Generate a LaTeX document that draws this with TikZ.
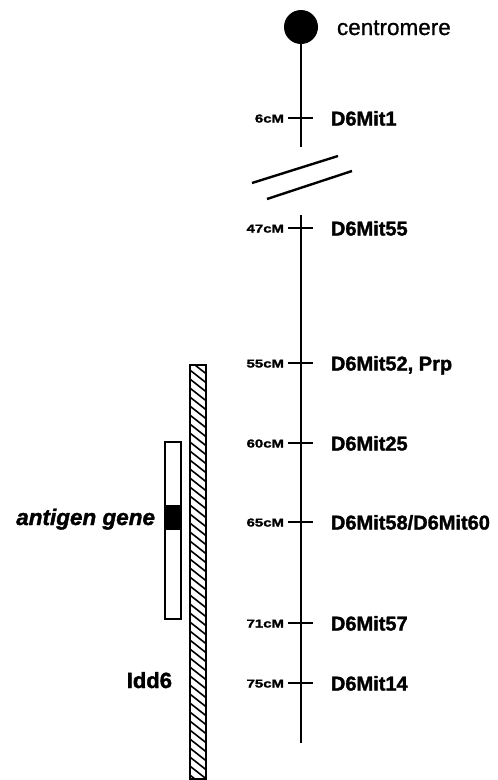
\documentclass[tikz,border=0pt]{standalone}
\usepackage{graphicx}
\usepackage{fontspec}
\setmainfont{Liberation Sans}
\newfontfamily\heavy[FakeBold=1.6]{Liberation Sans Bold}
\newfontfamily\heavyit[FakeBold=1.6]{Liberation Sans Bold Italic}
\newcommand\cmtext[1]{\scalebox{1.3}[1]{#1}}
\begin{document}
\begin{tikzpicture}[x=1pt,y=-1pt,line width=2pt,
  marker/.style={font=\heavy\fontsize{20}{20}\selectfont,anchor=base west,inner sep=0pt},
  cmlab/.style={font=\heavy\fontsize{11.5}{12}\selectfont,anchor=base east,inner sep=0pt},
  sidelab/.style={font=\heavy\fontsize{22}{22}\selectfont,anchor=base east,inner sep=0pt},
  tick/.style={line width=2pt},
  box/.style={draw,line width=2pt}]
\useasboundingbox (0,0) rectangle (498,780);
% centromere
\node[circle,fill=black,minimum size=34pt,inner sep=0pt] (cen) at (301,27) {};
\node[font=\fontsize{22.5}{22}\selectfont\addfontfeatures{FakeBold=0.8},anchor=base west,inner sep=0pt] (centxt) at (336,35) {centromere};
% chromosome line
\coordinate (top1) at (301,147);
\coordinate (top2) at (301,215);
\coordinate (bot) at (301,743);
\draw (cen.center) -- (top1);
\draw (top2) -- (bot);
% break marks
\coordinate (b1a) at (252,183); \coordinate (b1b) at (338,156);
\coordinate (b2a) at (267,199); \coordinate (b2b) at (352,171);
\draw[line width=2.4pt] (b1a) -- (b1b);
\draw[line width=2.4pt] (b2a) -- (b2b);
% markers
\foreach \y/\c/\m/\n in {118/6cM/D6Mit1/a, 228/47cM/D6Mit55/b, 363/55cM/{D6Mit52, Prp}/c, 443/60cM/D6Mit25/d, 522/65cM/D6Mit58\slash D6Mit60/e, 623/71cM/D6Mit57/f, 683/75cM/D6Mit14/g}{
  \coordinate (tl\n) at (288,\y);
  \coordinate (tr\n) at (313,\y);
  \draw[tick] (tl\n) -- (tr\n);
  \node[cmlab] (cm\n) at (285,\y+4.5) {\cmtext{\c}};
  \node[marker] (mk\n) at (330,\y+7.5) {\m};
}
% hatched Idd6 bar
\coordinate (hb1) at (189.5,365);
\coordinate (hb2) at (205.5,779);
\begin{scope}
  \clip (hb1) rectangle (hb2);
  \foreach \k in {0,...,48}{
    \draw[line width=1.6pt] (186,358+9*\k) -- (209,376+9*\k);
  }
\end{scope}
\draw[box] (hb1) rectangle (hb2);
% antigen box
\coordinate (ab1) at (164.5,442);
\coordinate (ab2) at (180.5,619);
\fill (164.5,505) rectangle (180.5,530);
\draw[box] (ab1) rectangle (ab2);
% side labels
\node[sidelab,font=\heavyit\fontsize{22.5}{22}\selectfont] (ag) at (156,525) {antigen gene};
\node[sidelab] (idd) at (173,688) {Idd6};
\end{tikzpicture}
\end{document}
